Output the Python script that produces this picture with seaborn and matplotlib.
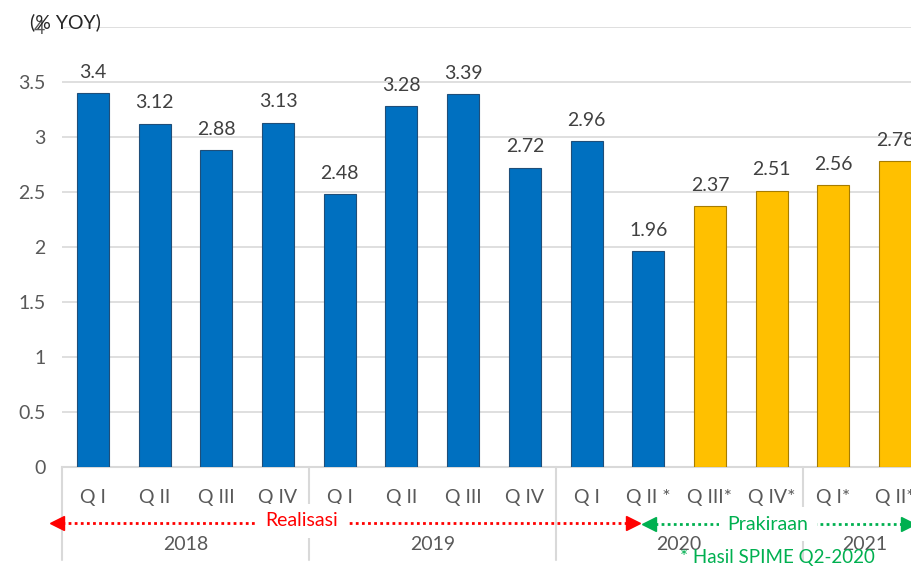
import pandas as pd
import matplotlib.pyplot as plt
import seaborn as sns
from matplotlib.transforms import blended_transform_factory


# Data
quarters = ["Q I", "Q II", "Q III", "Q IV", "Q I", "Q II", "Q III", "Q IV",
            "Q I", "Q II *", "Q III*", "Q IV*", "Q I*", "Q II*"]
values = [3.4, 3.12, 2.88, 3.13, 2.48, 3.28, 3.39, 2.72,
          2.96, 1.96, 2.37, 2.51, 2.56, 2.78]
kind = ["Realisasi"] * 10 + ["Prakiraan"] * 4
years = ["2018", "2019", "2020", "2021"]
year_sizes = [4, 4, 4, 2]

df = pd.DataFrame({"pos": range(len(values)), "value": values, "kind": kind})

sns.set_theme(style="white")
plt.rcParams["font.family"] = ["Lato", "DejaVu Sans"]
fs = 14

fig = plt.figure(figsize=(9.12, 5.66), dpi=100)
ax = fig.add_axes([62 / 912, 99 / 566, 864 / 912, 440 / 566])

sns.barplot(data=df, x="pos", y="value", hue="kind",
            palette={"Realisasi": "#0070C0", "Prakiraan": "#FFC000"},
            saturation=1, dodge=False, width=0.52, legend=False, ax=ax,
            edgecolor="#1F4E79", linewidth=0.8, zorder=3)
for p, k in zip(ax.patches, kind):
    if k == "Prakiraan":
        p.set_edgecolor("#A67C00")

ax.set_xlim(-0.5, len(values) - 0.5)
ax.set_ylim(0, 4)
ax.set_yticks([0, 0.5, 1, 1.5, 2, 2.5, 3, 3.5, 4])
ax.set_yticklabels(["0", "0.5", "1", "1.5", "2", "2.5", "3", "3.5", "4"])
ax.tick_params(axis="y", length=0, labelsize=fs, labelcolor="#595959", pad=12)
ax.set_xticks([])
ax.set_xlabel("")
ax.set_ylabel("")
ax.grid(axis="y", color="#D9D9D9", linewidth=1.2, zorder=0)
for s in ["left", "right", "top"]:
    ax.spines[s].set_visible(False)
ax.spines["bottom"].set_color("#D9D9D9")
ax.spines["bottom"].set_linewidth(1.5)

# value labels
for i, v in enumerate(values):
    ax.annotate(f"{v:g}", (i, v), xytext=(0, 9), textcoords="offset points",
                ha="center", va="bottom", fontsize=fs, color="#404040")

# category axis labels
tr = blended_transform_factory(ax.transData, fig.transFigure)
for i, q in enumerate(quarters):
    ax.text(i, 1 - 498 / 566, q, transform=tr, ha="center", va="center",
            fontsize=fs, color="#595959")

start = 0
for y, n in zip(years, year_sizes):
    ax.plot([start - 0.5, start - 0.5], [1 - 467 / 566, 1 - 560 / 566],
            transform=tr, color="#D9D9D9", linewidth=1.5, clip_on=False)
    ax.text(start - 0.5 + n / 2, 1 - 545 / 566, y, transform=tr,
            ha="center", va="center", fontsize=fs, color="#595959")
    start += n

ax.text(-1.02, 4.04, "(% YOY)", ha="left", va="center", fontsize=fs,
        color="#262626")

# overlay in pixel coordinates for the arrows
ov = fig.add_axes([0, 0, 1, 1], facecolor="none")
ov.set_xlim(0, 912)
ov.set_ylim(566, 0)
ov.axis("off")

red = "#FF0000"
green = "#00B050"
ov.plot([62, 628], [523, 523], color=red, linestyle=(0, (1, 1.2)), linewidth=2)
ov.plot([57], [523], marker="<", color=red, markersize=10)
ov.plot([633], [523], marker=">", color=red, markersize=10)
ov.text(302, 521, "Realisasi", ha="center", va="center", fontsize=fs, color=red,
        bbox=dict(facecolor="white", edgecolor="none", pad=6))

ov.plot([655, 905], [524, 524], color=green, linestyle=(0, (1, 1.2)), linewidth=2)
ov.plot([649], [524], marker="<", color=green, markersize=10)
ov.plot([908], [524], marker=">", color=green, markersize=10)
ov.text(768, 524, "Prakiraan", ha="center", va="center", fontsize=fs, color=green,
        bbox=dict(facecolor="white", edgecolor="none", pad=6))

ov.text(777, 557, "* Hasil SPIME Q2-2020", ha="center", va="center",
        fontsize=13.5, color=green)

fig.savefig("out.png", dpi=100)
